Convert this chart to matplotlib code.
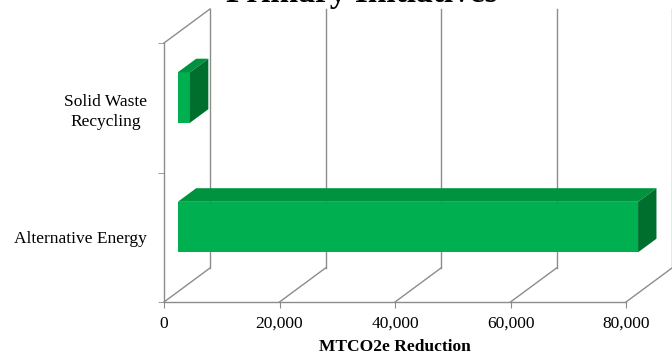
import numpy as np
import matplotlib
matplotlib.use("Agg")
import matplotlib.pyplot as plt
from matplotlib.patches import Polygon
from matplotlib.ticker import FuncFormatter

plt.rcParams['font.family'] = ['Liberation Serif', 'DejaVu Serif']

# data
categories = ['Alternative Energy', 'Solid Waste\nRecycling']
values = [79700, 2100]
x_ticks = [0, 20000, 40000, 60000, 80000]
title = 'Primary Initiatives'
x_label = 'MTCO2e Reduction'

# colours
grid_col = '#8c8c8c'
front_col = '#00b050'
top_col = '#00933f'
side_col = '#006f2e'

W, H = 672, 354
fig = plt.figure(figsize=(W / 100, H / 100), dpi=100)
# front plane of the 3d box, in pixels
left, bottom, width, height = 164, 52, 462, 259
ax = fig.add_axes([left / W, bottom / H, width / W, height / H])

xmin, xmax = 0, 80000
ymin, ymax = -0.5, len(categories) - 0.5
ax.set_xlim(xmin, xmax)
ax.set_ylim(ymin, ymax)

# depth of the box converted to data units
DX = 46 / width * (xmax - xmin)
DY = 34 / height * (ymax - ymin)

# back wall gridlines + floor diagonals
for v in x_ticks:
    ax.plot([v + DX, v + DX], [ymin + DY, ymax + DY], color=grid_col, lw=1, clip_on=False, zorder=1)
    ax.plot([v, v + DX], [ymin, ymin + DY], color=grid_col, lw=1, clip_on=False, zorder=1)
# top edge of the side wall
ax.plot([xmin, xmin + DX], [ymax, ymax + DY], color=grid_col, lw=1, clip_on=False, zorder=1)

# 3d bars
d0, d1 = 0.3, 0.7
h = 0.39
for i, v in enumerate(values):
    yb = i - h / 2
    yt = i + h / 2
    front = Polygon([(d0 * DX, yb + d0 * DY), (v + d0 * DX, yb + d0 * DY),
                     (v + d0 * DX, yt + d0 * DY), (d0 * DX, yt + d0 * DY)],
                    closed=True, fc=front_col, ec='none', zorder=3, clip_on=False)
    top = Polygon([(d0 * DX, yt + d0 * DY), (v + d0 * DX, yt + d0 * DY),
                   (v + d1 * DX, yt + d1 * DY), (d1 * DX, yt + d1 * DY)],
                  closed=True, fc=top_col, ec='none', zorder=3, clip_on=False)
    side = Polygon([(v + d0 * DX, yb + d0 * DY), (v + d1 * DX, yb + d1 * DY),
                    (v + d1 * DX, yt + d1 * DY), (v + d0 * DX, yt + d0 * DY)],
                   closed=True, fc=side_col, ec='none', zorder=3, clip_on=False)
    for p in (front, top, side):
        ax.add_patch(p)

# front edges of the box
for s in ['top', 'right']:
    ax.spines[s].set_visible(False)
for s in ['left', 'bottom']:
    ax.spines[s].set_color(grid_col)
    ax.spines[s].set_linewidth(1)
ax.set_facecolor('none')

ax.set_xticks(x_ticks)
ax.xaxis.set_major_formatter(FuncFormatter(lambda v, p: f'{int(v):,}'))
ax.tick_params(axis='x', length=4, color=grid_col, labelsize=12.5, pad=6)

ax.set_yticks(range(len(categories)))
ax.set_yticklabels(categories)
ax.set_yticks(np.arange(ymin, ymax + 0.01, 1.0), minor=True)
ax.tick_params(axis='y', which='major', length=0, labelsize=12.5, pad=12)
ax.tick_params(axis='y', which='minor', length=4, color=grid_col)
for lab in ax.get_yticklabels():
    lab.set_multialignment('center')
    lab.set_linespacing(1.35)

ax.set_xlabel(x_label, fontsize=12.5, fontweight='bold', labelpad=5)

fig.text(361.5 / W, (H - 2) / H, title, ha='center', va='baseline',
         fontsize=24, fontweight='bold')

fig.savefig('out.png', dpi=100)
